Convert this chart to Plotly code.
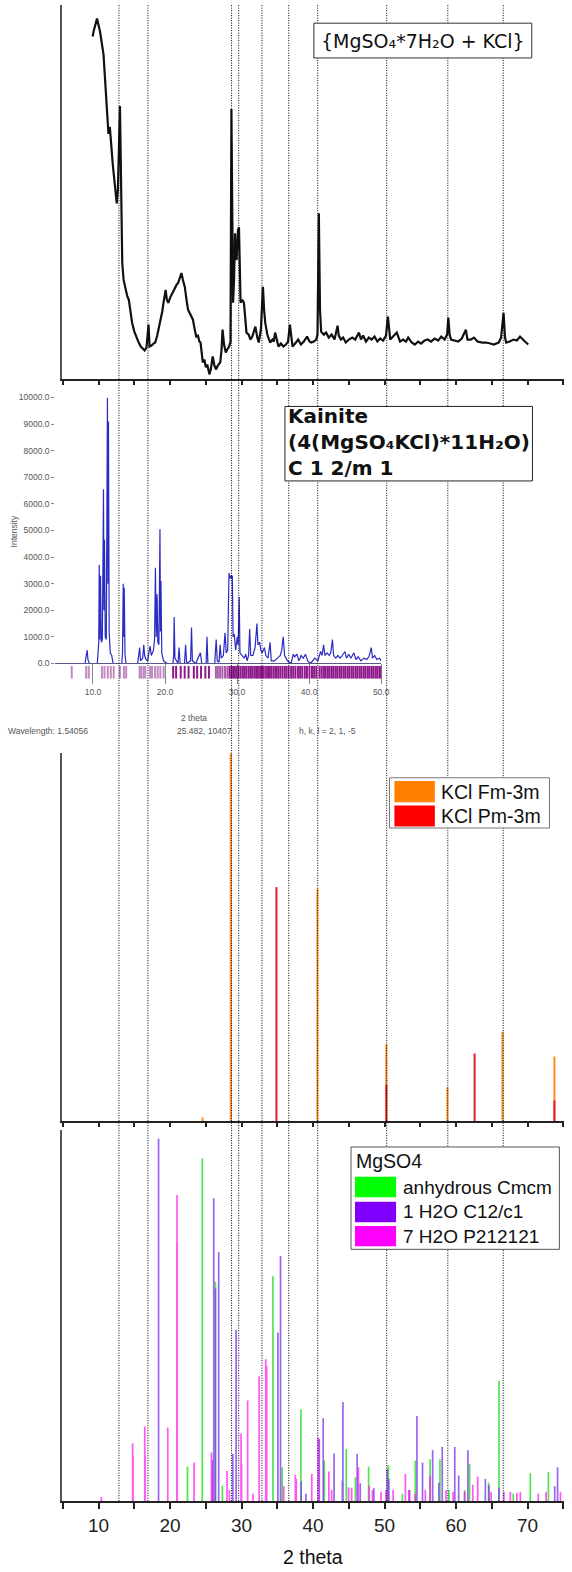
import plotly.graph_objects as go

W, H = 572, 1572

# ---------------- measured pattern of the sample ----------------
xrd_2theta = [
    9.17, 9.3, 9.78, 10.2, 10.69, 11.0, 11.38, 11.57, 12.0, 12.54,
    12.7, 12.99, 13.17, 13.31, 13.5, 13.78, 14.0, 14.23, 14.45, 14.69,
    15.0, 15.3, 15.61, 15.9, 16.2, 16.44, 16.7, 16.99, 17.13, 17.4,
    17.7, 17.92, 18.2, 18.45, 18.61, 18.9, 19.1, 19.38, 19.55, 19.75,
    20.0, 20.2, 20.44, 20.7, 20.9, 21.13, 21.3, 21.59, 21.8, 22.06,
    22.3, 22.51, 22.8, 23.0, 23.2, 23.45, 23.66, 23.9, 24.1, 24.26,
    24.58, 24.8, 25.0, 25.2, 25.5, 25.7, 25.96, 26.2, 26.41, 26.7,
    27.02, 27.2, 27.34, 27.55, 27.79, 28.0, 28.26, 28.45, 28.58, 28.7,
    28.81, 28.95, 29.09, 29.2, 29.31, 29.5, 29.64, 29.86, 30.1, 30.33,
    30.5, 30.69, 31.0, 31.24, 31.5, 31.7, 31.93, 32.2, 32.4, 32.7,
    32.99, 33.15, 33.31, 33.6, 34.0, 34.3, 34.5, 34.69, 34.9, 35.16,
    35.5, 35.85, 36.2, 36.5, 36.76, 36.95, 37.13, 37.5, 37.92, 38.3,
    38.7, 39.16, 39.5, 39.75, 40.1, 40.44, 40.62, 40.81, 40.97, 41.13,
    41.5, 41.82, 42.2, 42.6, 43.0, 43.43, 43.6, 43.89, 44.2, 44.58,
    45.0, 45.5, 45.9, 46.41, 46.7, 47.0, 47.4, 47.8, 48.2, 48.6,
    49.0, 49.4, 49.8, 50.2, 50.47, 50.79, 51.2, 51.71, 52.17, 52.6,
    53.0, 53.31, 53.8, 54.23, 54.7, 55.1, 55.6, 56.07, 56.5, 57.0,
    57.5, 57.92, 58.4, 58.75, 58.92, 59.1, 59.3, 59.8, 60.3, 60.8,
    61.37, 61.6, 62.06, 62.5, 63.0, 63.66, 64.2, 64.8, 65.27, 65.96,
    66.3, 66.65, 66.85, 67.02, 67.5, 68.03, 68.5, 68.95, 69.3, 69.64,
    70.1,
]
xrd_counts = [
    345, 350, 363, 350, 327, 290, 247, 254, 215, 177,
    190, 275, 170, 117, 100, 90, 84, 80, 66, 57,
    48, 42, 37, 33, 31, 29, 32, 55, 33, 34,
    36, 37, 44, 52, 57, 68, 78, 90, 80, 77,
    82, 85, 87, 92, 95, 97, 101, 107, 100, 93,
    80, 70, 66, 62, 60, 50, 43, 44, 38, 37,
    17, 20, 12, 15, 5, 10, 23, 14, 10, 14,
    17, 30, 50, 35, 27, 30, 33, 38, 272, 170,
    77, 100, 147, 125, 120, 150, 153, 77, 80, 77,
    60, 47, 45, 40, 43, 48, 53, 42, 37, 50,
    93, 70, 57, 45, 37, 40, 38, 47, 40, 33,
    36, 33, 35, 38, 55, 40, 33, 36, 40, 35,
    38, 43, 38, 37, 38, 40, 45, 167, 70, 48,
    45, 47, 42, 45, 40, 54, 44, 40, 42, 37,
    40, 42, 40, 47, 40, 44, 38, 42, 40, 43,
    38, 41, 39, 44, 63, 40, 43, 47, 38, 40,
    38, 42, 37, 35, 38, 36, 39, 40, 38, 41,
    39, 43, 40, 45, 62, 45, 40, 39, 38, 41,
    50, 40, 40, 42, 38, 37, 37, 36, 35, 37,
    42, 67, 42, 37, 38, 40, 39, 43, 40, 38,
    35,
]

# ---------------- kainite calculated pattern ----------------
kainite_2theta = [
    4.8, 8.9, 9.1, 9.2, 9.3, 9.5, 10.6, 10.8, 10.87, 10.95,
    11.05, 11.15, 11.3, 11.46, 11.53, 11.6, 11.7, 11.85, 12.01, 12.08,
    12.15, 12.25, 12.4, 12.6, 12.8, 14.0, 14.1, 14.2, 14.27, 14.34,
    14.45, 14.6, 16.2, 16.35, 16.48, 16.6, 16.9, 17.05, 17.17, 17.35,
    17.6, 17.75, 17.93, 18.1, 18.4, 18.55, 18.67, 18.78, 18.9, 19.0,
    19.15, 19.3, 19.37, 19.44, 19.55, 19.8, 20.3, 21.1, 21.2, 21.27,
    21.38, 21.8, 21.95, 22.1, 22.7, 22.86, 23.0, 23.55, 23.68, 23.8,
    24.3, 24.5, 24.91, 25.1, 25.7, 25.83, 25.95, 26.9, 27.1, 27.25,
    27.5, 27.65, 27.8, 28.1, 28.33, 28.5, 28.7, 28.88, 29.0, 29.11,
    29.22, 29.34, 29.45, 29.62, 29.8, 30.03, 30.15, 30.3, 30.4, 30.7,
    31.0, 31.2, 31.4, 31.6, 31.75, 31.9, 32.2, 32.5, 32.76, 32.9,
    33.12, 33.3, 33.5, 33.8, 34.0, 34.3, 34.58, 34.75, 35.2, 35.6,
    36.0, 36.2, 36.4, 36.6, 37.0, 37.5, 37.8, 38.0, 38.3, 38.6,
    38.9, 39.2, 39.5, 39.8, 40.2, 40.8, 41.2, 41.6, 41.8, 42.01,
    42.2, 42.5, 42.8, 43.0, 43.24, 43.4, 43.7, 44.0, 44.3, 44.6,
    44.98, 45.2, 45.5, 45.8, 46.0, 46.21, 46.5, 46.8, 47.2, 47.6,
    48.0, 48.3, 48.63, 48.8, 49.1, 49.4, 49.77, 50.0,
]
kainite_intensity = [
    0, 0, 350, 500, 150, 0, 0, 800, 3700, 900,
    3300, 800, 900, 6550, 2000, 4650, 1000, 900, 10000, 3000,
    9100, 1200, 400, 300, 0, 0, 400, 3000, 1000, 2850,
    300, 0, 0, 400, 600, 100, 200, 700, 300, 150,
    100, 400, 650, 300, 500, 900, 3600, 1000, 2600, 800,
    700, 5050, 1200, 3100, 400, 100, 0, 0, 300, 1750,
    200, 0, 600, 0, 0, 700, 0, 100, 1350, 100,
    0, 150, 400, 0, 0, 1000, 0, 0, 900, 100,
    50, 700, 200, 300, 1150, 400, 500, 3400, 3200, 3300,
    3200, 3300, 1000, 1100, 500, 1000, 700, 2500, 400, 300,
    200, 350, 100, 300, 1300, 300, 300, 600, 1500, 700,
    800, 500, 400, 600, 300, 200, 800, 100, 100, 200,
    300, 500, 1000, 300, 100, 0, 350, 250, 350, 100,
    300, 200, 350, 100, 0, 200, 100, 450, 300, 700,
    300, 400, 300, 400, 900, 300, 200, 300, 200, 300,
    450, 200, 350, 200, 300, 400, 150, 250, 100, 200,
    150, 250, 600, 200, 300, 150, 200, 100,
]
# reflection positions shown under the kainite pattern
kainite_refl_light = [7.05, 9.05, 9.41, 11.24, 11.6, 12.06, 12.47, 12.88, 13.74, 14.29,
                      14.61, 16.48, 16.7, 17.02, 17.25, 17.93, 18.2, 18.62, 18.98, 19.35,
                      19.81]
kainite_refl_mid = [27.06, 27.33, 27.65, 27.97, 28.33, 28.65]
kainite_refl_dark = [
    21.13, 21.54, 22.18, 22.73, 23.27, 24.0, 24.46, 25.0, 25.6, 26.1,
    28.95, 29.2, 29.45, 29.7, 29.95, 30.2, 30.5, 30.8, 31.05, 31.3,
    31.6, 31.85, 32.1, 32.4, 32.65, 32.9, 33.2, 33.45, 33.7, 34.0,
    34.3, 34.55, 34.8, 35.1, 35.4, 35.7, 36.0, 36.3, 36.6, 36.85,
    37.15, 37.5, 37.8, 38.1, 38.45, 38.75, 39.05, 39.4, 39.7, 40.05,
    40.4, 40.7, 41.0, 41.45, 41.75, 42.05, 42.3, 42.6, 42.85, 43.15,
    43.4, 43.7, 43.95, 44.25, 44.5, 44.8, 45.05, 45.35, 45.6, 45.9,
    46.15, 46.45, 46.7, 47.0, 47.25, 47.55, 47.8, 48.1, 48.35, 48.65,
    48.9, 49.2, 49.45, 49.75, 49.95,
]
kainite_ytick_vals = [0, 1000, 2000, 3000, 4000, 5000, 6000, 7000, 8000, 9000, 10000]
kainite_xtick_vals = [10, 20, 30, 40, 50]

# ---------------- KCl reference lines ----------------
kcl_fm3m_2theta = [24.55, 28.49, 40.61, 50.25, 58.79, 66.5, 73.76]
kcl_fm3m_int = [1.0, 100, 63.2, 20.9, 9.2, 24.3, 17.6]
kcl_pm3m_2theta = [34.88, 50.25, 62.6, 73.76]
kcl_pm3m_int = [63.6, 9.9, 18.4, 5.6]

# ---------------- MgSO4 reference lines ----------------
mg_anh_2theta = [22.44, 24.51, 26.34, 27.31, 34.39, 35.68, 38.3, 41.56, 44.65, 45.93,
                 47.77, 50.53, 52.5, 54.3, 56.37, 57.75, 59.0, 61.2, 61.89, 64.55,
                 66.02, 68.0, 70.39, 72.92]
mg_anh_int = [9.3, 92.2, 59.0, 4.2, 60.5, 9.1, 24.7, 10.9, 14.0, 6.4,
              9.3, 9.7, 2.0, 10.9, 11.3, 11.3, 3.0, 3.0, 10.0, 5.0,
              32.4, 2.0, 7.5, 7.8]
mg_1h_2theta = [18.39, 25.95, 26.11, 26.34, 26.8, 28.78, 29.24, 35.08, 35.45, 38.34,
                39.0, 40.87, 41.42, 42.94, 44.1, 44.18, 46.17, 46.6, 48.5, 50.39,
                50.6, 53.5, 54.53, 55.31, 56.73, 57.6, 58.07, 59.82, 60.37, 61.66,
                64.1, 64.6, 66.0, 73.8, 74.2]
mg_1h_int = [97.6, 11.0, 81.5, 57.2, 67.0, 12.7, 46.1, 45.4, 66.0, 5.3,
             2.0, 16.7, 22.3, 12.8, 5.5, 26.7, 12.7, 4.8, 3.5, 8.6,
             6.0, 3.0, 22.9, 10.4, 13.7, 5.0, 14.6, 14.6, 6.9, 13.7,
             6.0, 4.3, 3.6, 4.0, 9.1]
mg_7h_2theta = [10.39, 14.76, 14.8, 16.46, 16.5, 19.68, 20.97, 21.0, 23.36, 25.79,
                25.9, 27.96, 28.3, 29.93, 30.0, 30.85, 31.6, 32.46, 33.38, 33.52,
                35.9, 37.52, 37.65, 39.82, 40.73, 42.21, 42.6, 44.97, 45.4, 46.34,
                47.86, 48.3, 49.5, 50.2, 51.2, 52.92, 53.4, 54.3, 55.7, 56.37,
                58.6, 59.6, 61.2, 62.34, 63.03, 64.9, 66.7, 67.6, 68.5, 69.0,
                71.5, 72.6, 74.6]
mg_7h_int = [1.1, 15.6, 12.2, 20.1, 12.2, 19.8, 82.4, 69.7, 10.4, 13.1,
             6.0, 8.2, 3.0, 18.2, 10.0, 27.1, 2.0, 33.6, 38.2, 36.3,
             4.0, 7.1, 6.0, 7.3, 17.1, 8.0, 3.0, 3.7, 3.6, 9.1,
             4.2, 3.0, 2.5, 3.0, 3.0, 7.3, 3.0, 2.0, 3.0, 6.9,
             3.0, 2.5, 2.5, 4.4, 6.6, 2.5, 2.5, 2.5, 2.2, 2.5,
             2.0, 2.5, 2.5]

# guide lines through all panels (2 theta positions of the sample peaks)
guide_2theta = [12.85, 16.9, 28.6, 29.6, 32.85, 36.6, 40.65, 50.3, 58.85, 66.6]


def sticks(xs, ys):
    X, Y = [], []
    for x, y in zip(xs, ys):
        X += [x, x, None]
        Y += [0, y, None]
    return X, Y


def marks(xs):
    X, Y = [], []
    for x in xs:
        X += [x, x, None]
        Y += [0, 1, None]
    return X, Y


def pxx(px):
    return px / W


def pxy(py):
    return 1 - py / H


fig = go.Figure()

# top: measured pattern
fig.add_trace(go.Scatter(x=xrd_2theta, y=xrd_counts, mode="lines",
                         line=dict(color="#111111", width=2.2), xaxis="x", yaxis="y",
                         showlegend=False, hoverinfo="skip"))

# kainite pattern
fig.add_trace(go.Scatter(x=kainite_2theta, y=kainite_intensity, mode="lines",
                         line=dict(color="#2b2bc4", width=1.2), xaxis="x2", yaxis="y2",
                         cliponaxis=False, showlegend=False, hoverinfo="skip"))
for refl, col in ((kainite_refl_light, "#c08ac0"), (kainite_refl_mid, "#a860a8"),
                  (kainite_refl_dark, "#8e1a8c")):
    rx, ry = marks(refl)
    fig.add_trace(go.Scatter(x=rx, y=ry, mode="lines", line=dict(color=col, width=2),
                             xaxis="x5", yaxis="y5", showlegend=False, hoverinfo="skip"))

# KCl lines
for xs, ys, col in ((kcl_fm3m_2theta, kcl_fm3m_int, "#ff8c1a"),
                    (kcl_pm3m_2theta, kcl_pm3m_int, "#e0202a")):
    sx, sy = sticks(xs, ys)
    fig.add_trace(go.Scatter(x=sx, y=sy, mode="lines", line=dict(color=col, width=2),
                             xaxis="x3", yaxis="y3", showlegend=False, hoverinfo="skip"))

# MgSO4 lines
for xs, ys, col, op in ((mg_anh_2theta, mg_anh_int, "#33e033", 0.85),
                        (mg_1h_2theta, mg_1h_int, "#8040ee", 0.8),
                        (mg_7h_2theta, mg_7h_int, "#ff10f0", 0.7)):
    sx, sy = sticks(xs, ys)
    fig.add_trace(go.Scatter(x=sx, y=sy, mode="lines", line=dict(color=col, width=1.7),
                             opacity=op, xaxis="x4", yaxis="y4", showlegend=False,
                             hoverinfo="skip"))

main_dom = [pxx(63), 1]
main_rng = [4.9, 75.1]
axcol = "#222222"

fig.update_layout(
    width=W, height=H, margin=dict(l=0, r=0, t=0, b=0),
    paper_bgcolor="white", plot_bgcolor="rgba(0,0,0,0)",
    font=dict(family="Arial, Liberation Sans, sans-serif", color="#222"),
    xaxis=dict(domain=main_dom, range=main_rng, anchor="y", showline=True,
               linecolor=axcol, linewidth=2, ticks="outside", ticklen=4, tickwidth=2,
               tickcolor=axcol, tick0=0, dtick=5, showticklabels=False,
               showgrid=False, zeroline=False),
    yaxis=dict(domain=[pxy(376.7), 1], range=[0, 376.7], anchor="x", showline=True,
               linecolor="#555", linewidth=2, showticklabels=False, ticks="",
               showgrid=False, zeroline=False),
    xaxis2=dict(domain=[pxx(56), pxx(386.7)], range=[4.76, 50.02], anchor="y2",
                showline=True, linecolor="#5a5a8a", linewidth=1, ticks="outside",
                ticklen=20, tickwidth=1, tickcolor="#888", tickvals=kainite_xtick_vals,
                tickformat=".1f", tickfont=dict(size=8.5, color="#555"),
                showgrid=False, zeroline=False),
    yaxis2=dict(domain=[pxy(662.7), pxy(395)], range=[0, 10000], anchor="x2",
                showline=False, ticks="outside", ticklen=3, tickcolor="#888",
                tickvals=kainite_ytick_vals, tickformat=".1f",
                tickfont=dict(size=8.5, color="#555"), showgrid=False, zeroline=False),
    xaxis5=dict(domain=[pxx(56), pxx(386.7)], range=[4.76, 50.02], anchor="y5",
                visible=False),
    yaxis5=dict(domain=[pxy(678), pxy(665)], range=[0, 1], anchor="x5", visible=False),
    xaxis3=dict(domain=main_dom, range=main_rng, anchor="y3", showline=True,
                linecolor=axcol, linewidth=2, ticks="outside", ticklen=4, tickwidth=2,
                tickcolor=axcol, tick0=0, dtick=5, showticklabels=False,
                showgrid=False, zeroline=False),
    yaxis3=dict(domain=[pxy(1123.3), pxy(753)], range=[0, 100], anchor="x3",
                showline=True, linecolor="#555", linewidth=2, showticklabels=False,
                ticks="", showgrid=False, zeroline=False),
    xaxis4=dict(domain=main_dom, range=main_rng, anchor="y4", showline=True,
                linecolor=axcol, linewidth=2, ticks="outside", ticklen=6, tickwidth=2,
                tickcolor=axcol, tick0=0, dtick=10,
                minor=dict(dtick=5, ticks="outside", ticklen=6, tickwidth=2,
                           tickcolor=axcol),
                tickfont=dict(size=19, color="#222"), showgrid=False, zeroline=False),
    yaxis4=dict(domain=[pxy(1505.7), pxy(1131.7)], range=[0, 100], anchor="x4",
                showline=True, linecolor="#555", linewidth=2, showticklabels=False,
                ticks="", showgrid=False, zeroline=False),
)

shapes = []
# dotted guide lines
for g in guide_2theta:
    shapes.append(dict(type="line", xref="x4", yref="paper", x0=g, x1=g,
                       y0=pxy(1505.7), y1=1, layer="above",
                       line=dict(color="#000", width=1, dash="1px,1.5px")))

# boxes (opaque, on top of guide lines)
def box(x0, y0, x1, y1, col="#333", fill="white"):
    shapes.append(dict(type="rect", xref="paper", yref="paper",
                       x0=pxx(x0), x1=pxx(x1), y0=pxy(y1), y1=pxy(y0), layer="above",
                       line=dict(color=col, width=1), fillcolor=fill))

def swatch(x0, y0, x1, y1, fill):
    shapes.append(dict(type="rect", xref="paper", yref="paper",
                       x0=pxx(x0), x1=pxx(x1), y0=pxy(y1), y1=pxy(y0), layer="above",
                       line=dict(width=0), fillcolor=fill))

box(318.3, 18.3, 539.3, 53.3, col="#333")
box(289, 404, 540, 479, col="#222")
box(395, 777.7, 557.3, 828.3, col="#777")
swatch(400, 781, 441, 802.3, "#ff8000")
swatch(400, 805.7, 441, 826.7, "#ff0000")
box(356, 1149.3, 567.3, 1252.3, col="#555")
swatch(360, 1179.3, 401.7, 1200, "#00ff00")
swatch(360, 1204.3, 401.7, 1225, "#8000ff")
swatch(360, 1228.7, 401.7, 1249.3, "#ff00ff")
fig.update_layout(shapes=shapes)

ann = []
def text(s, px, py, size, xanchor="center", color="#111", family="Arial, Liberation Sans, sans-serif", angle=0):
    ann.append(dict(text=s, xref="paper", yref="paper", x=pxx(px), y=pxy(py),
                    xanchor=xanchor, yanchor="middle", showarrow=False, textangle=angle,
                    align="left", font=dict(size=size, color=color, family=family)))

text("{MgSO₄*7H₂O + KCl}", 428.8, 35.8, 19, family="DejaVu Sans, Verdana, sans-serif")
text("<b>Kainite<br>(4(MgSO₄KCl)*11H₂O)<br>C 1 2/m 1</b>", 290, 440, 20,
     xanchor="left", family="DejaVu Sans, Verdana, sans-serif")
text("Intensity", 14, 530, 8.5, color="#555", angle=-90)
text("2 theta", 197, 718, 8.5, color="#555")
text("Wavelength: 1.54056", 48.7, 731, 8.5, color="#555")
text("25.482, 10407", 207, 731, 8.5, color="#555")
text("h, k, l = 2, 1, -5", 332, 731, 8.5, color="#555")
text("KCl Fm-3m", 445.5, 791.7, 19.5, xanchor="left")
text("KCl Pm-3m", 445.5, 816, 19.5, xanchor="left")
text("MgSO4", 359.5, 1163.3, 19.5, xanchor="left")
text("anhydrous Cmcm", 406.5, 1189.7, 19, xanchor="left")
text("1 H2O C12/c1", 406.5, 1214.7, 19, xanchor="left")
text("7 H2O P212121", 406.5, 1239, 19, xanchor="left")
text("2 theta", 317.5, 1562, 19.5)
fig.update_layout(annotations=ann)

fig.write_html("out.html")
